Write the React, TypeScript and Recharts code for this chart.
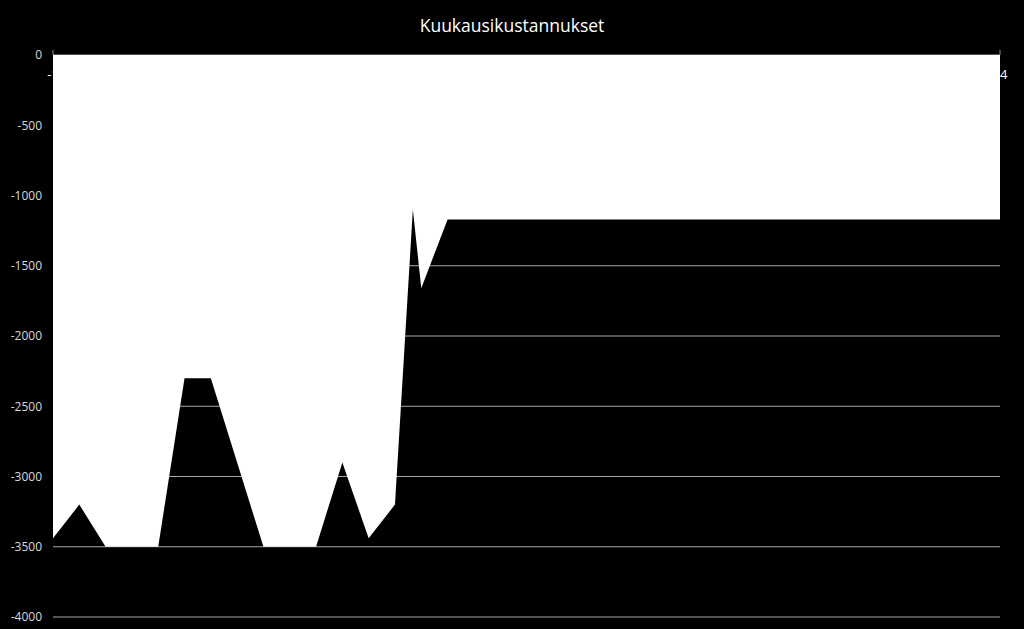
import React from 'react';
import { AreaChart, Area, XAxis, YAxis, CartesianGrid } from 'recharts';

const chartTitle = 'Kuukausikustannukset';

// month index along the date axis (one extra mid-month entry after month 13)
const monthIndex = [
  0, 1, 2, 3, 4, 5, 6, 7, 8, 9, 10, 11, 12, 13, 13.68, 14, 15, 16, 17, 18,
  19, 20, 21, 22, 23, 24, 25, 26, 27, 28, 29, 30, 31, 32, 33, 34, 35, 36,
];

const monthlyCost = [
  -3440, -3200, -3500, -3500, -3500, -2300, -2300, -2900, -3500, -3500,
  -3500, -2900, -3440, -3200, -1100, -1660, -1170, -1170, -1170, -1170,
  -1170, -1170, -1170, -1170, -1170, -1170, -1170, -1170, -1170, -1170,
  -1170, -1170, -1170, -1170, -1170, -1170, -1170, -1170,
];

const yTicks = [0, -500, -1000, -1500, -2000, -2500, -3000, -3500, -4000];
const xTickValues = [0, 36];
const xTickLabels = ['-1', '34'];

const data = monthIndex.map((m, i) => ({ m, cost: monthlyCost[i] }));

const FONT = '"Open Sans", sans-serif';

const XTick = (props: any) => {
  const { x, payload } = props;
  const idx = xTickValues.indexOf(payload.value);
  return (
    <text
      x={x}
      y={74}
      textAnchor="middle"
      dominantBaseline="central"
      fill="#ffffff"
      fontSize={13}
      fontFamily={FONT}
    >
      {xTickLabels[idx]}
    </text>
  );
};

export default function App() {
  return (
    <div
      style={{
        position: 'absolute',
        left: 0,
        top: 0,
        width: 1024,
        height: 629,
        background: '#000000',
        overflow: 'hidden',
      }}
    >
      <div
        style={{
          position: 'absolute',
          left: 0,
          top: 13,
          width: 1024,
          textAlign: 'center',
          color: '#ffffff',
          fontFamily: FONT,
          fontSize: 17.5,
          lineHeight: '24px',
        }}
      >
        {chartTitle}
      </div>
      <AreaChart
        width={1024}
        height={629}
        data={data}
        margin={{ top: 25, right: 24, bottom: 12, left: 8 }}
      >
        <CartesianGrid vertical={false} stroke="#a8a8a8" strokeWidth={1} />
        <XAxis
          type="number"
          dataKey="m"
          domain={[0, 36]}
          ticks={xTickValues}
          interval={0}
          orientation="top"
          height={30}
          tickSize={5}
          axisLine={false}
          tickLine={{ stroke: '#8c8c8c' }}
          tick={<XTick />}
          allowDataOverflow
        />
        <YAxis
          type="number"
          domain={[-4000, 0]}
          ticks={yTicks}
          interval={0}
          width={45}
          axisLine={false}
          tickLine={false}
          tickMargin={5}
          tick={{ fill: '#d9d9d9', fontSize: 12, fontFamily: FONT }}
          allowDataOverflow
        />
        <Area
          type="linear"
          dataKey="cost"
          baseValue={0}
          stroke="none"
          fill="#ffffff"
          fillOpacity={1}
          dot={false}
          activeDot={false}
          isAnimationActive={false}
        />
      </AreaChart>
    </div>
  );
}
